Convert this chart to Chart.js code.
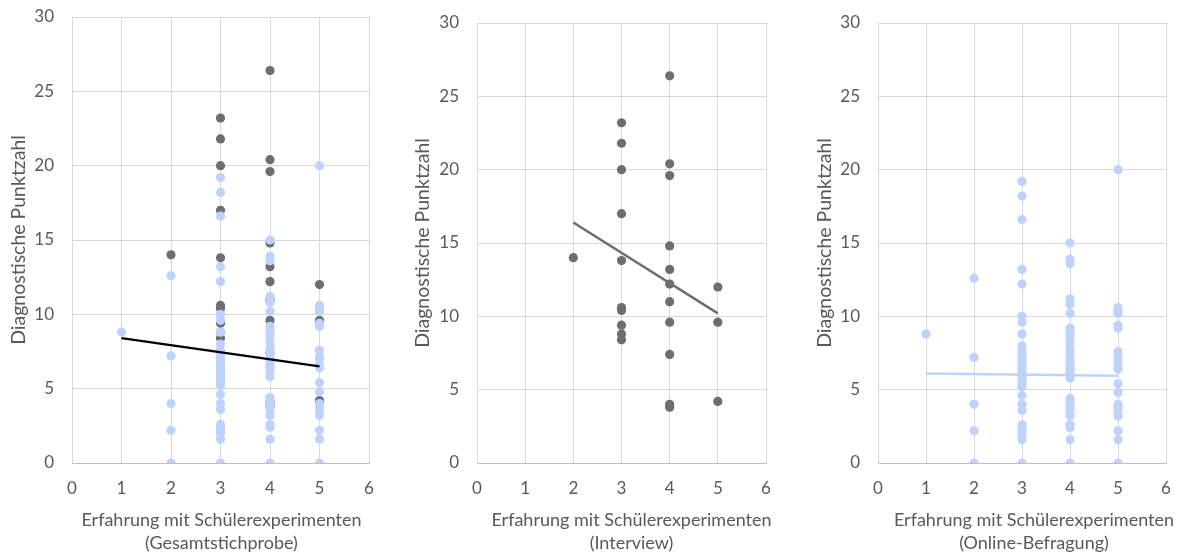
<!DOCTYPE html>
<html>
<head>
<meta charset="utf-8">
<script src="https://cdn.jsdelivr.net/npm/chart.js@4"></script>
<style>
  html, body { margin: 0; padding: 0; background: #fff; overflow: hidden; }
  canvas { position: absolute; top: 0; }
  #c1 { left: 0; }
  #c2 { left: 400px; }
  #c3 { left: 800px; }
</style>
</head>
<body>
<canvas id="c1" width="400" height="552"></canvas>
<canvas id="c2" width="400" height="552"></canvas>
<canvas id="c3" width="392" height="552"></canvas>
<script>
// scores of the interview group, one array per experience level (x = 1..5)
const interview1 = [];
const interview2 = [14.0];
const interview3 = [23.2, 21.8, 20.0, 17.0, 13.8, 10.6, 10.4, 9.4, 8.8, 8.4];
const interview4 = [26.4, 20.4, 19.6, 14.8, 13.2, 12.2, 11.0, 9.6, 7.4, 4.0, 3.8];
const interview5 = [12.0, 9.6, 4.2];

// scores of the online group
const online1 = [8.8];
const online2 = [12.6, 7.2, 4.0, 2.2, 0];
const online3 = [19.2, 18.2, 16.6, 13.2, 12.2, 10.0, 9.6, 8.8, 8.0, 7.6, 7.4, 7.2, 7.0, 6.8, 6.6, 6.4, 6.2, 6.0, 5.8, 5.6, 5.4, 5.2, 4.6, 4.0, 3.6, 2.6, 2.4, 2.2, 2.0, 1.6, 0];
const online4 = [15.0, 13.9, 13.6, 11.2, 10.8, 10.2, 9.2, 9.0, 8.8, 8.6, 8.2, 7.8, 7.6, 7.4, 7.0, 6.8, 6.6, 6.4, 6.2, 5.8, 4.4, 4.2, 4.0, 3.8, 3.6, 3.2, 2.6, 2.4, 1.6, 0];
const online5 = [20.0, 10.6, 10.4, 10.2, 9.4, 9.2, 7.6, 7.2, 7.0, 6.6, 6.4, 5.4, 4.8, 4.0, 3.8, 3.6, 3.2, 2.2, 1.6, 0];

// linear trend lines (end points)
const trendAllX = [1, 5],       trendAllY = [8.4, 6.5];
const trendInterviewX = [2, 5], trendInterviewY = [16.4, 10.2];
const trendOnlineX = [1, 5],    trendOnlineY = [6.1, 5.95];

const xTitle = "Erfahrung mit Schülerexperimenten";
const yTitle = "Diagnostische Punktzahl";
const subTitles = ["(Gesamtstichprobe)", "(Interview)", "(Online-Befragung)"];

const gray = "#6e6e6e", blue = "#bdd3fd", textColor = "#595959";
const fontFamily = "Lato, 'Open Sans', sans-serif";

// turn the per-level arrays into {x,y} points
function toPoints(levels) {
    const pts = [];
    levels.forEach((arr, i) => arr.forEach(v => pts.push({x: i + 1, y: v})));
    return pts;
}
function toLine(xs, ys) {
    return xs.map((x, i) => ({x: x, y: ys[i]}));
}

const interviewPts = toPoints([interview1, interview2, interview3, interview4, interview5]);
const onlinePts = toPoints([online1, online2, online3, online4, online5]);

function pointSet(data, color) {
    return {data, backgroundColor: color, borderWidth: 0, pointRadius: 4.6, pointHoverRadius: 4.6};
}
function lineSet(data, color) {
    return {data, showLine: true, borderColor: color, borderWidth: 2.5, pointRadius: 0, fill: false};
}

// two-line x axis title under the ticks, a bit off the plot centre like the original
const xTitlePlugin = {
    id: "xTitle",
    afterDraw(chart, args, opts) {
        const ctx = chart.ctx, area = chart.chartArea;
        const cx = (area.left + area.right) / 2 + opts.shift;
        ctx.save();
        ctx.fillStyle = textColor;
        ctx.font = "18px " + fontFamily;
        ctx.textAlign = "center";
        ctx.textBaseline = "middle";
        ctx.fillText(xTitle, cx, 520);
        ctx.fillText(opts.sub, cx, 543);
        ctx.restore();
    }
};

function makeChart(id, datasets, sub, box) {
    new Chart(document.getElementById(id), {
        type: "scatter",
        data: {datasets},
        plugins: [xTitlePlugin],
        options: {
            responsive: false,
            animation: false,
            events: [],
            layout: {padding: {top: box.top, right: box.right, left: 0, bottom: 0}},
            plugins: {
                legend: {display: false},
                tooltip: {enabled: false},
                xTitle: {sub: sub, shift: box.shift}
            },
            scales: {
                x: {
                    type: "linear", min: 0, max: 6,
                    afterFit: s => { s.height = 552 - box.bottom; },
                    ticks: {stepSize: 1, color: textColor, padding: 15, font: {family: fontFamily, size: 17}},
                    grid: {color: "#d9d9d9", drawTicks: false},
                    border: {color: "#bfbfbf"}
                },
                y: {
                    min: 0, max: 30,
                    afterFit: s => { s.width = box.left; s.paddingTop = 0; s.paddingBottom = 0; },
                    ticks: {stepSize: 5, color: textColor, padding: 18, font: {family: fontFamily, size: 17}},
                    grid: {color: "#d9d9d9", drawTicks: false},
                    border: {color: "#d9d9d9"},
                    title: {display: true, text: yTitle, color: textColor,
                            padding: {top: box.yTitlePad, bottom: 0}, font: {family: fontFamily, size: 19.5}}
                }
            }
        }
    });
}

makeChart("c1", [
    lineSet(toLine(trendAllX, trendAllY), "#000"),
    pointSet(onlinePts, blue),
    pointSet(interviewPts, gray)
], subTitles[0], {left: 72, right: 31, top: 17, bottom: 463, yTitlePad: 7, shift: 1});

makeChart("c2", [
    lineSet(toLine(trendInterviewX, trendInterviewY), gray),
    pointSet(interviewPts, gray)
], subTitles[1], {left: 77, right: 34, top: 23, bottom: 463, yTitlePad: 11, shift: 10});

makeChart("c3", [
    lineSet(toLine(trendOnlineX, trendOnlineY), blue),
    pointSet(onlinePts, blue)
], subTitles[2], {left: 78, right: 26, top: 23, bottom: 463, yTitlePad: 13, shift: 12});
</script>
</body>
</html>
